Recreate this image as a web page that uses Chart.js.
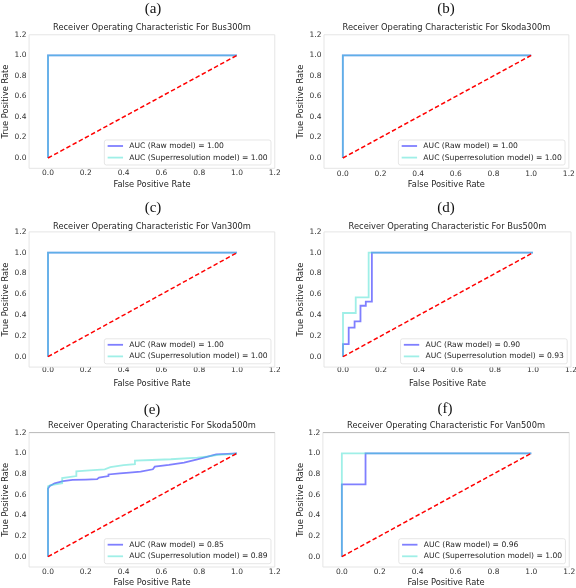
<!DOCTYPE html>
<html><head><meta charset="utf-8">
<script src="https://cdn.jsdelivr.net/npm/chart.js@4.4.0/dist/chart.umd.min.js"></script>
<style>
html,body{margin:0;padding:0;background:#fff;}
#wrap{position:relative;width:576px;height:588px;overflow:hidden;background:#fff;}
#wrap canvas{position:absolute;}
.lab{position:absolute;font-family:"Liberation Serif","DejaVu Serif",serif;font-size:15px;line-height:15px;transform:translate(-50%,-50%);color:#111;white-space:nowrap;}
</style></head><body><div id="wrap"></div>
<script>
// ---------- data ----------
const panelLetters = ['(a)','(b)','(c)','(d)','(e)','(f)'];
const panelNames = ['Bus300m','Skoda300m','Van300m','Bus500m','Skoda500m','Van500m'];
const xTicks = [0,0.2,0.4,0.6,0.8,1.0,1.2];
const yTicks = [0,0.2,0.4,0.6,0.8,1.0,1.2];
const chanceFpr = [0,1];
const chanceTpr = [0,1];
const rawAUC = ['1.00','1.00','1.00','0.90','0.85','0.96'];
const srAUC  = ['1.00','1.00','1.00','0.93','0.89','1.00'];

const rawFprBus300 = [0,0,1],  rawTprBus300 = [0,1,1];
const srFprBus300  = [0,0,1],  srTprBus300  = [0,1,1];
const rawFprSkoda300 = [0,0,1], rawTprSkoda300 = [0,1,1];
const srFprSkoda300  = [0,0,1], srTprSkoda300  = [0,1,1];
const rawFprVan300 = [0,0,1],  rawTprVan300 = [0,1,1];
const srFprVan300  = [0,0,1],  srTprVan300  = [0,1,1];
const rawFprBus500 = [0,0,0.03,0.03,0.061,0.061,0.092,0.092,0.12,0.12,0.152,0.152,1];
const rawTprBus500 = [0,0.12,0.12,0.28,0.28,0.34,0.34,0.49,0.49,0.53,0.53,1,1];
const srFprBus500  = [0,0,0.067,0.067,0.135,0.135,1];
const srTprBus500  = [0,0.42,0.42,0.57,0.57,1,1];
const rawFprSkoda500 = [0,0,0.01,0.035,0.08,0.13,0.2,0.26,0.27,0.32,0.32,0.38,0.43,0.49,0.555,0.565,0.64,0.72,0.79,0.86,0.89,0.95,1];
const rawTprSkoda500 = [0,0.66,0.685,0.71,0.73,0.742,0.746,0.75,0.765,0.78,0.795,0.805,0.813,0.823,0.845,0.87,0.887,0.91,0.942,0.974,0.99,0.995,1];
const srFprSkoda500  = [0,0,0.01,0.04,0.075,0.075,0.11,0.15,0.15,0.22,0.3,0.33,0.4,0.46,0.46,0.55,0.65,0.79,0.85,0.9,0.95,1];
const srTprSkoda500  = [0,0.68,0.69,0.70,0.71,0.76,0.77,0.78,0.825,0.835,0.845,0.865,0.885,0.895,0.928,0.935,0.942,0.958,0.97,0.985,0.99,1];
const rawFprVan500 = [0,0,0.125,0.125,1], rawTprVan500 = [0,0.7,0.7,1,1];
const srFprVan500  = [0,0,1],            srTprVan500  = [0,1,1];

const rawFpr = [rawFprBus300,rawFprSkoda300,rawFprVan300,rawFprBus500,rawFprSkoda500,rawFprVan500];
const rawTpr = [rawTprBus300,rawTprSkoda300,rawTprVan300,rawTprBus500,rawTprSkoda500,rawTprVan500];
const srFpr  = [srFprBus300,srFprSkoda300,srFprVan300,srFprBus500,srFprSkoda500,srFprVan500];
const srTpr  = [srTprBus300,srTprSkoda300,srTprVan300,srTprBus500,srTprSkoda500,srTprVan500];

// ---------- layout (canvas coords, 288x196 each) ----------
const W = 288, H = 196;
const layoutSpec = [
  {ox:0,  oy:0,   left:29.1, right:274.8, top:34.8, bottom:168.3, titleY:28.3, yTitleX:5.5,  xTickY:173.5, xTitleY:185,   lx:153, ly:8.3, topSpine:'#e2e2e2'},
  {ox:288,oy:0,   left:36,   right:283,   top:34.8, bottom:168.3, titleY:28.3, yTitleX:13.3, xTickY:174,   xTitleY:185,   lx:446, ly:8.3, topSpine:'#e2e2e2'},
  {ox:0,  oy:196, left:29.1, right:274.8, top:35.9, bottom:171.1, titleY:30.7, yTitleX:5.5,  xTickY:174.5, xTitleY:187.5, lx:153, ly:206.5, topSpine:'#e2e2e2'},
  {ox:288,oy:196, left:36,   right:283,   top:35.9, bottom:171.1, titleY:30.7, yTitleX:13.3, xTickY:174.5, xTitleY:187.5, lx:446, ly:206.7, topSpine:'#e2e2e2'},
  {ox:0,  oy:392, left:29.1, right:274.8, top:40.6, bottom:175,   titleY:34,   yTitleX:6,    xTickY:180.3, xTitleY:191.3, lx:152, ly:409.3, topSpine:'#b0b0b0'},
  {ox:288,oy:392, left:34.9, right:283.2, top:40.6, bottom:175,   titleY:34,   yTitleX:12.8, xTickY:180.3, xTitleY:191.3, lx:445, ly:408.3, topSpine:'#b0b0b0'}
];

const FONT = 'DejaVu Sans';
const titleSize = 8.3, labelSize = 8.3, tickSize = 7.5, legendSize = 7.6;
const LH = 1.2;

const framePlugin = {
  id:'frame',
  afterDatasetsDraw(chart, args, opts){
    const {ctx, chartArea:ca} = chart;
    ctx.save();
    ctx.lineWidth = 0.9;
    ctx.strokeStyle = '#e2e2e2';
    ctx.beginPath();
    ctx.moveTo(ca.left, ca.top); ctx.lineTo(ca.left, ca.bottom); ctx.lineTo(ca.right, ca.bottom); ctx.lineTo(ca.right, ca.top);
    ctx.stroke();
    ctx.strokeStyle = opts.topColor || '#e2e2e2';
    ctx.beginPath(); ctx.moveTo(ca.left, ca.top); ctx.lineTo(ca.right, ca.top); ctx.stroke();
    ctx.restore();
  }
};

const insetLegend = {
  id:'insetLegend',
  afterDraw(chart){
    const {ctx, chartArea:ca} = chart;
    const items = chart.data.datasets.filter(d => d.label);
    ctx.save();
    ctx.font = legendSize + 'px "' + FONT + '"';
    const tw = Math.max(...items.map(d => ctx.measureText(d.label).width));
    const padL = 3.3, handle = 15.4, gap = 6.3, padR = 3.3, h = 25, row0 = 6, rowH = 11.6;
    const w = padL + handle + gap + tw + padR;
    const x1 = ca.right - 3.8, y1 = ca.bottom - 3.3;
    const x0 = x1 - w, y0 = y1 - h;
    const r = 2;
    ctx.beginPath();
    ctx.moveTo(x0 + r, y0); ctx.lineTo(x1 - r, y0); ctx.quadraticCurveTo(x1, y0, x1, y0 + r);
    ctx.lineTo(x1, y1 - r); ctx.quadraticCurveTo(x1, y1, x1 - r, y1);
    ctx.lineTo(x0 + r, y1); ctx.quadraticCurveTo(x0, y1, x0, y1 - r);
    ctx.lineTo(x0, y0 + r); ctx.quadraticCurveTo(x0, y0, x0 + r, y0);
    ctx.closePath();
    ctx.fillStyle = 'rgba(255,255,255,0.8)';
    ctx.fill();
    ctx.lineWidth = 0.8;
    ctx.strokeStyle = 'rgba(215,215,215,0.8)';
    ctx.stroke();
    items.forEach((d, k) => {
      const yy = y0 + row0 + k * rowH;
      ctx.beginPath();
      ctx.moveTo(x0 + padL, yy); ctx.lineTo(x0 + padL + handle, yy);
      ctx.strokeStyle = d.borderColor; ctx.lineWidth = d.borderWidth;
      ctx.setLineDash([]);
      ctx.stroke();
      ctx.fillStyle = '#262626';
      ctx.textBaseline = 'middle';
      ctx.textAlign = 'left';
      ctx.fillText(d.label, x0 + padL + handle + gap, yy);
    });
    ctx.restore();
  }
};

function pts(xs, ys){ return xs.map((x, i) => ({x: x, y: ys[i]})); }

const wrap = document.getElementById('wrap');
layoutSpec.forEach((g, i) => {
  const cv = document.createElement('canvas');
  cv.width = W; cv.height = H;
  cv.style.left = g.ox + 'px'; cv.style.top = g.oy + 'px';
  cv.style.width = W + 'px'; cv.style.height = H + 'px';
  wrap.appendChild(cv);
  const lab = document.createElement('div');
  lab.className = 'lab'; lab.textContent = panelLetters[i];
  lab.style.left = g.lx + 'px'; lab.style.top = g.ly + 'px';
  wrap.appendChild(lab);

  const tLH = titleSize * LH, lLH = labelSize * LH, kLH = tickSize * LH;
  new Chart(cv.getContext('2d'), {
    type: 'scatter',
    data: {
      datasets: [
        {label: 'AUC (Raw model) = ' + rawAUC[i], data: pts(rawFpr[i], rawTpr[i]), showLine: true,
         borderColor: 'rgba(0,0,255,0.5)', backgroundColor: 'rgba(0,0,255,0.5)', borderWidth: 1.8, pointRadius: 0, tension: 0, order: 2},
        {label: 'AUC (Superresolution model) = ' + srAUC[i], data: pts(srFpr[i], srTpr[i]), showLine: true,
         borderColor: 'rgba(64,224,208,0.5)', backgroundColor: 'rgba(64,224,208,0.5)', borderWidth: 1.8, pointRadius: 0, tension: 0, order: 1},
        {label: '', data: pts(chanceFpr, chanceTpr), showLine: true,
         borderColor: '#ff0000', borderWidth: 1.5, borderDash: [4.5, 2.5], pointRadius: 0, order: 0}
      ]
    },
    options: {
      responsive: false, animation: false, devicePixelRatio: 1,
      events: [],
      layout: {padding: {left: 0, right: W - g.right, top: 0, bottom: 0}},
      plugins: {
        legend: {display: false}, tooltip: {enabled: false},
        title: {display: true, text: 'Receiver Operating Characteristic For ' + panelNames[i], fullSize: false,
          color: '#262626', font: {family: FONT, size: titleSize, weight: 'normal', lineHeight: LH},
          padding: {top: g.titleY - tLH / 2, bottom: g.top - g.titleY - tLH / 2}},
        frame: {topColor: g.topSpine}
      },
      scales: {
        x: {
          type: 'linear', position: 'bottom', min: -0.1, max: 1.2,
          afterBuildTicks: s => { s.ticks = xTicks.map(v => ({value: v})); },
          afterFit: s => { s.height = H - g.bottom; },
          ticks: {callback: v => Number(v).toFixed(1), autoSkip: false, maxRotation: 0, color: '#333',
            font: {family: FONT, size: tickSize, lineHeight: LH}, padding: g.xTickY - g.bottom - kLH / 2},
          grid: {display: false, drawTicks: false}, border: {display: false},
          title: {display: true, text: 'False Positive Rate', color: '#262626',
            font: {family: FONT, size: labelSize, lineHeight: LH}, padding: {top: 0, bottom: H - g.xTitleY - lLH / 2}}
        },
        y: {
          type: 'linear', position: 'left', min: -0.1, max: 1.2,
          afterBuildTicks: s => { s.ticks = yTicks.map(v => ({value: v})); },
          afterFit: s => { s.width = g.left; },
          ticks: {callback: v => Number(v).toFixed(1), autoSkip: false, color: '#333',
            font: {family: FONT, size: tickSize, lineHeight: LH}, padding: 2.6},
          grid: {display: false, drawTicks: false}, border: {display: false},
          title: {display: true, text: 'True Positive Rate', color: '#262626',
            font: {family: FONT, size: labelSize, lineHeight: LH}, padding: {top: g.yTitleX - lLH / 2, bottom: 0}}
        }
      }
    },
    plugins: [framePlugin, insetLegend]
  });
});
</script>
</body></html>
